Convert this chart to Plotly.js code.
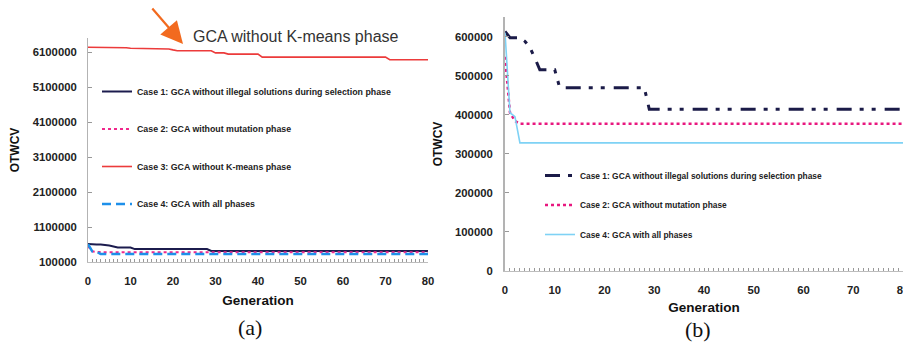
<!DOCTYPE html>
<html>
<head>
<meta charset="utf-8">
<script src="https://cdn.plot.ly/plotly-3.0.1.min.js"></script>
<style>html,body{margin:0;padding:0;background:#fff;}#chart{width:903px;height:344px;}</style>
</head>
<body>
<div id="chart"></div>
<script>
// ---- data ----
const generations = [0,1,2,3,4,5,6,7,8,9,10,11,12,13,14,15,16,17,18,19,20,21,22,23,24,25,26,27,28,29,30,
  31,32,33,34,35,36,37,38,39,40,41,42,43,44,45,46,47,48,49,50,51,52,53,54,55,56,57,58,59,60,
  61,62,63,64,65,66,67,68,69,70,71,72,73,74,75,76,77,78,79,80];

const case1Name = "Case 1: GCA without illegal solutions during selection phase";
const case2Name = "Case 2: GCA without mutation phase";
const case3Name = "Case 3: GCA without K-means phase";
const case4Name = "Case 4: GCA with all phases";

const case1Values = [613000,597000,597000,597000,588000,572000,545000,515000,515000,515000,515000,
  469000,469000,469000,469000,469000,469000,469000,469000,469000,
  469000,469000,469000,469000,469000,469000,469000,469000,469000,
  414000,414000,414000,414000,414000,414000,414000,414000,414000,414000,
  414000,414000,414000,414000,414000,414000,414000,414000,414000,414000,
  414000,414000,414000,414000,414000,414000,414000,414000,414000,414000,
  414000,414000,414000,414000,414000,414000,414000,414000,414000,414000,
  414000,414000,414000,414000,414000,414000,414000,414000,414000,414000,
  414000,414000];

const case2Values = [548000,405000,384000,
  377000,377000,377000,377000,377000,377000,377000,377000,377000,377000,
  377000,377000,377000,377000,377000,377000,377000,377000,377000,377000,
  377000,377000,377000,377000,377000,377000,377000,377000,377000,377000,
  377000,377000,377000,377000,377000,377000,377000,377000,377000,377000,
  377000,377000,377000,377000,377000,377000,377000,377000,377000,377000,
  377000,377000,377000,377000,377000,377000,377000,377000,377000,377000,
  377000,377000,377000,377000,377000,377000,377000,377000,377000,377000,
  377000,377000,377000,377000,377000,377000,377000,377000];

const case3Values = [6234000,6234000,6234000,6234000,
  6222000,6222000,6222000,6222000,6222000,6222000,
  6206000,6206000,6206000,6206000,6206000,6206000,6206000,
  6186000,6186000,6186000,
  6160000,
  6137000,6137000,6137000,6137000,6137000,6137000,6137000,6137000,6137000,
  6075000,6075000,6075000,
  6040000,6040000,6040000,6040000,6040000,6040000,6040000,6040000,
  5955000,5955000,5955000,5955000,5955000,5955000,5955000,5955000,5955000,5955000,
  5955000,5955000,5955000,5955000,5955000,5955000,5955000,5955000,5955000,5955000,
  5955000,5955000,5955000,5955000,5955000,5955000,5955000,5955000,5955000,5955000,
  5880000,5880000,5880000,5880000,5880000,5880000,5880000,5880000,5880000,5880000];

const case4Values = [610000,405000,395000,
  328000,328000,328000,328000,328000,328000,328000,328000,328000,328000,
  328000,328000,328000,328000,328000,328000,328000,328000,328000,328000,
  328000,328000,328000,328000,328000,328000,328000,328000,328000,328000,
  328000,328000,328000,328000,328000,328000,328000,328000,328000,328000,
  328000,328000,328000,328000,328000,328000,328000,328000,328000,328000,
  328000,328000,328000,328000,328000,328000,328000,328000,328000,328000,
  328000,328000,328000,328000,328000,328000,328000,328000,328000,328000,
  328000,328000,328000,328000,328000,328000,328000,328000];

const panelLabels = ["(a)", "(b)"];
const calloutText = "GCA without K-means phase";
const xTitle = "Generation";
const yTitle = "OTWCV";

// ---- styling ----
const SANS = "Arial, 'Liberation Sans', sans-serif";
const W = 903, H = 344;
const px = v => v / W;
const py = v => (H - v) / H;

const traces = [
  // panel (a)
  {x: generations, y: case1Values, name: case1Name, type: 'scatter', mode: 'lines',
   xaxis: 'x', yaxis: 'y', legend: 'legend', legendgroup: 'a1',
   line: {color: '#1c1c4e', width: 2}},
  {x: generations, y: case2Values, name: case2Name, type: 'scatter', mode: 'lines',
   xaxis: 'x', yaxis: 'y', legend: 'legend', legendgroup: 'a2',
   line: {color: '#f0288c', width: 2, dash: 'dot'}},
  {x: generations, y: case3Values, name: case3Name, type: 'scatter', mode: 'lines',
   xaxis: 'x', yaxis: 'y', legend: 'legend', legendgroup: 'a3',
   line: {color: '#ec3b3b', width: 1.6}},
  {x: generations, y: case4Values, name: case4Name, type: 'scatter', mode: 'lines',
   xaxis: 'x', yaxis: 'y', legend: 'legend', legendgroup: 'a4',
   line: {color: '#1e90ea', width: 2.6, dash: '9px,5px'}},
  // panel (b)
  {x: generations, y: case1Values, name: case1Name, type: 'scatter', mode: 'lines',
   xaxis: 'x2', yaxis: 'y2', legend: 'legend2', legendgroup: 'b1',
   line: {color: '#1b1b48', width: 3, dash: '15px,8px,4px,8px,4px,9px'}},
  {x: generations, y: case2Values, name: case2Name, type: 'scatter', mode: 'lines',
   xaxis: 'x2', yaxis: 'y2', legend: 'legend2', legendgroup: 'b2',
   line: {color: '#e8177f', width: 2.5, dash: 'dot'}},
  {x: generations, y: case4Values, name: case4Name, type: 'scatter', mode: 'lines',
   xaxis: 'x2', yaxis: 'y2', legend: 'legend2', legendgroup: 'b4',
   line: {color: '#7fd2f5', width: 1.6}}
];

const tickFont = {family: SANS, size: 11.3, color: '#222', weight: 'bold'};
const xTitleFont = {family: SANS, size: 13.5, color: '#111', weight: 'bold'};
const yTitleFont = {family: SANS, size: 12, color: '#111', weight: 'bold'};

function xAxis(domain, anchor, standoff) {
  return {
    domain: domain, anchor: anchor, range: [0, 80], tick0: 0, dtick: 10,
    showgrid: false, zeroline: false, showline: true, linecolor: '#bdbdbd', linewidth: 1,
    ticks: 'inside', ticklen: 3, tickcolor: '#999', tickwidth: 1,
    minor: {dtick: 1, ticks: 'inside', ticklen: 3, tickcolor: '#999', tickwidth: 1},
    tickfont: tickFont, ticklabelstandoff: 8, ticklabeloverflow: 'allow',
    title: {text: xTitle, font: xTitleFont, standoff: standoff},
    automargin: false, fixedrange: true
  };
}
function yAxis(domain, anchor, range, tick0, dtick, lw) {
  return {
    domain: domain, anchor: anchor, range: range, tick0: tick0, dtick: dtick,
    tickformat: 'd', showgrid: false, zeroline: false, showline: true,
    linecolor: '#b3b3b3', linewidth: lw,
    ticks: 'inside', ticklen: 4, tickcolor: '#999', tickwidth: 1,
    tickfont: tickFont, ticklabelstandoff: 8,
    title: {text: yTitle, font: yTitleFont, standoff: 10},
    automargin: false, fixedrange: true
  };
}

const layout = {
  width: W, height: H, autosize: false,
  margin: {l: 0, r: 0, t: 0, b: 0, pad: 0},
  paper_bgcolor: '#fff', plot_bgcolor: '#fff',
  showlegend: true,
  xaxis: xAxis([px(88), px(428)], 'y', 9),
  yaxis: yAxis([(H - 262) / H, (H - 38) / H], 'x', [100000, 6500000], 100000, 1000000, 1),
  xaxis2: xAxis([px(505), 1], 'y2', 7),
  yaxis2: yAxis([(H - 271) / H, (H - 17) / H], 'x2', [0, 650000], 0, 100000, 2),
  legend: {
    x: px(97), y: py(77), xanchor: 'left', yanchor: 'top',
    bgcolor: 'rgba(0,0,0,0)', borderwidth: 0,
    traceorder: 'grouped', tracegroupgap: 18.5,
    font: {family: SANS, size: 8.8, color: '#222', weight: 'bold'}
  },
  legend2: {
    x: px(540), y: py(161), xanchor: 'left', yanchor: 'top',
    bgcolor: 'rgba(0,0,0,0)', borderwidth: 0,
    traceorder: 'grouped', tracegroupgap: 10.5,
    font: {family: SANS, size: 8.4, color: '#222', weight: 'bold'}
  },
  annotations: [
    {text: calloutText, xref: 'paper', yref: 'paper', x: px(296), y: py(37),
     xanchor: 'center', yanchor: 'middle', showarrow: false,
     font: {family: SANS, size: 16, color: '#333'}},
    {text: '', xref: 'paper', yref: 'paper', x: px(183), y: py(44),
     showarrow: true, ax: -32, ay: -37, arrowhead: 2, arrowsize: 2, arrowwidth: 2.2,
     arrowcolor: '#f26a1f', standoff: 0},
    {text: panelLabels[0], xref: 'paper', yref: 'paper', x: px(250), y: py(327),
     xanchor: 'center', yanchor: 'middle', showarrow: false,
     font: {family: "'Times New Roman', 'Liberation Serif', serif", size: 22, color: '#111'}},
    {text: panelLabels[1], xref: 'paper', yref: 'paper', x: px(698), y: py(329),
     xanchor: 'center', yanchor: 'middle', showarrow: false,
     font: {family: "'Times New Roman', 'Liberation Serif', serif", size: 22, color: '#111'}}
  ]
};

Plotly.newPlot('chart', traces, layout, {displayModeBar: false, staticPlot: true});
</script>
</body>
</html>
